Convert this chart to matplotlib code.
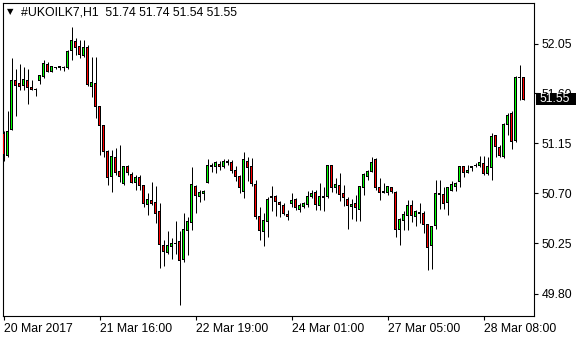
import matplotlib
matplotlib.use('Agg')
import matplotlib.pyplot as plt
import matplotlib.transforms as mtransforms
from matplotlib.patches import Rectangle
import numpy as np

# hourly bars, UKOIL K7
opens = [51.24, 51.04, 51.28, 51.72, 51.69, 51.67, 51.72, 51.65, 51.64, 51.72,
         51.75, 51.86, 51.80, 51.83, 51.84, 51.83, 51.83, 51.99, 52.07, 52.02,
         51.94, 52.01, 51.66, 51.69, 51.48, 51.31, 51.08, 50.85, 51.02, 50.90,
         50.79, 50.94, 50.87, 50.80, 50.84, 50.77, 50.60, 50.64, 50.62, 50.54,
         50.23, 50.17, 50.22, 50.25, 50.27, 50.11, 50.37, 50.44, 50.76, 50.67,
         50.70, 50.80, 50.95, 50.94, 50.96, 50.94, 50.99, 50.98, 50.91, 50.85,
         50.72, 50.99, 50.94, 50.78, 50.49, 50.36, 50.45, 50.67, 50.67, 50.62,
         50.59, 50.51, 50.61, 50.65, 50.56, 50.58, 50.60, 50.67, 50.71, 50.59,
         50.67, 50.67, 50.95, 50.75, 50.77, 50.70, 50.65, 50.58, 50.61, 50.56,
         50.75, 50.85, 50.90, 51.01, 50.75, 50.72, 50.71, 50.75, 50.71, 50.38,
         50.46, 50.50, 50.59, 50.49, 50.53, 50.52, 50.42, 50.23, 50.41, 50.70,
         50.69, 50.62, 50.73, 50.76, 50.81, 50.94, 50.89, 50.93, 50.95, 50.95,
         50.97, 50.88, 50.93, 51.22, 51.11, 51.03, 51.32, 51.42, 51.18, 51.74,
         51.74]
highs = [51.26, 51.44, 51.92, 51.82, 51.87, 51.84, 51.82, 51.72, 51.65, 51.77,
         51.90, 51.88, 51.85, 51.84, 51.85, 51.85, 51.99, 52.20, 52.10, 52.08,
         52.08, 52.04, 51.93, 51.93, 51.49, 51.32, 51.09, 51.09, 51.11, 51.14,
         50.94, 50.96, 50.89, 50.87, 50.87, 50.78, 50.70, 50.80, 50.77, 50.61,
         50.28, 50.36, 50.30, 50.45, 50.36, 50.52, 50.49, 50.94, 50.78, 50.73,
         50.73, 51.01, 50.97, 50.99, 50.99, 51.01, 51.01, 51.00, 50.95, 50.87,
         51.07, 51.03, 51.02, 50.82, 50.58, 50.52, 50.67, 50.77, 50.69, 50.63,
         50.61, 50.55, 50.70, 50.66, 50.61, 50.62, 50.72, 50.73, 50.73, 50.79,
         50.76, 50.96, 50.96, 50.84, 50.88, 50.78, 50.67, 50.65, 50.69, 50.77,
         50.88, 50.91, 51.03, 51.02, 50.84, 50.79, 50.77, 50.76, 50.72, 50.48,
         50.54, 50.64, 50.64, 50.55, 50.61, 50.54, 50.42, 50.40, 50.82, 50.82,
         50.76, 50.76, 50.81, 50.80, 50.95, 50.95, 50.96, 50.95, 50.97, 51.04,
         51.04, 51.03, 51.24, 51.23, 51.14, 51.33, 51.42, 51.44, 51.76, 51.86,
         51.74]
lows = [50.99, 51.03, 51.27, 51.40, 51.63, 51.63, 51.51, 51.63, 51.58, 51.69,
        51.74, 51.79, 51.79, 51.82, 51.81, 51.80, 51.82, 51.90, 51.95, 51.92,
        51.93, 51.67, 51.57, 51.38, 51.05, 51.03, 50.78, 50.71, 50.87, 50.80,
        50.78, 50.87, 50.79, 50.73, 50.73, 50.58, 50.51, 50.60, 50.43, 50.03,
        50.05, 50.16, 50.11, 50.16, 49.70, 50.08, 50.15, 50.37, 50.52, 50.62,
        50.64, 50.79, 50.89, 50.88, 50.91, 50.93, 50.96, 50.88, 50.81, 50.70,
        50.66, 50.81, 50.77, 50.47, 50.28, 50.23, 50.31, 50.54, 50.50, 50.49,
        50.51, 50.46, 50.58, 50.55, 50.53, 50.57, 50.58, 50.66, 50.55, 50.55,
        50.54, 50.66, 50.71, 50.70, 50.63, 50.59, 50.38, 50.47, 50.45, 50.45,
        50.69, 50.82, 50.89, 50.73, 50.64, 50.70, 50.69, 50.70, 50.31, 50.24,
        50.37, 50.37, 50.44, 50.41, 50.43, 50.34, 50.01, 50.02, 50.38, 50.56,
        50.56, 50.51, 50.72, 50.72, 50.76, 50.85, 50.88, 50.90, 50.94, 50.94,
        50.87, 50.87, 50.82, 51.03, 51.03, 51.02, 51.23, 51.10, 51.16, 51.54,
        51.54]
closes = [51.05, 51.26, 51.72, 51.67, 51.66, 51.73, 51.65, 51.64, 51.64, 51.76,
          51.87, 51.80, 51.84, 51.83, 51.83, 51.83, 51.98, 52.08, 52.01, 51.95,
          52.01, 51.68, 51.70, 51.48, 51.31, 51.08, 50.84, 51.03, 50.89, 50.85,
          50.94, 50.89, 50.80, 50.84, 50.77, 50.61, 50.65, 50.61, 50.52, 50.24,
          50.18, 50.23, 50.25, 50.25, 50.10, 50.38, 50.45, 50.78, 50.68, 50.71,
          50.72, 50.95, 50.94, 50.98, 50.94, 50.99, 50.98, 50.91, 50.85, 50.75,
          51.01, 50.93, 50.79, 50.49, 50.37, 50.46, 50.65, 50.66, 50.63, 50.60,
          50.52, 50.49, 50.64, 50.57, 50.59, 50.61, 50.67, 50.70, 50.60, 50.67,
          50.66, 50.95, 50.75, 50.78, 50.69, 50.66, 50.59, 50.60, 50.57, 50.76,
          50.87, 50.90, 50.98, 50.75, 50.71, 50.71, 50.76, 50.72, 50.38, 50.47,
          50.51, 50.59, 50.50, 50.54, 50.52, 50.42, 50.21, 50.40, 50.70, 50.69,
          50.61, 50.75, 50.78, 50.79, 50.94, 50.89, 50.91, 50.94, 50.95, 50.98,
          50.88, 50.94, 51.21, 51.12, 51.04, 51.32, 51.40, 51.17, 51.74, 51.74,
          51.55]

tick_pos = [0, 24, 48, 72, 96, 120]
tick_labels = ['20 Mar 2017', '21 Mar 16:00', '22 Mar 19:00',
               '24 Mar 01:00', '27 Mar 05:00', '28 Mar 08:00']
price_ticks = [49.80, 50.25, 50.70, 51.15, 51.60, 52.05]
symbol = '#UKOILK7,H1'

o = np.array(opens)
h = np.array(highs)
l = np.array(lows)
c = np.array(closes)
x = np.arange(len(o))

plt.rcParams['font.family'] = ['Liberation Sans', 'DejaVu Sans']
plt.rcParams['font.size'] = 8.8

fig = plt.figure(figsize=(5.8, 3.4), dpi=100)
ax = fig.add_axes([3 / 580, 24 / 340, 531 / 580, 313 / 340])

ylo, yhi = 49.5975, 52.4145
px = (yhi - ylo) / 313.0  # one pixel in price units

up = c >= o
cols = ['#00ff00' if u else '#ff0000' for u in up]
lo_b = np.minimum(o, c)
hi_b = np.maximum(o, c)

# wicks
ax.vlines(x, l, h, color='black', linewidth=0.72, zorder=2)
# black body frame
ax.bar(x, hi_b - lo_b + px, bottom=lo_b - px / 2, width=0.8, color='black',
       linewidth=0, zorder=3)
# coloured inside
inner = np.maximum(hi_b - lo_b - px, 0)
ax.bar(x, inner, bottom=lo_b + px / 2, width=0.4, color=cols,
       linewidth=0, zorder=4)

# candle centres on pixel centres: 4 px per bar
ax.set_xlim(-0.125, 132.625)
ax.set_ylim(ylo, yhi)

ax.yaxis.tick_right()
ax.set_yticks(price_ticks)
ax.set_yticklabels(['%.2f' % p for p in price_ticks])
ax.set_xticks(tick_pos)
ax.set_xticklabels(tick_labels)
plt.setp(ax.get_xticklabels(), ha='left')
ax.tick_params(axis='y', length=3, width=0.8, pad=2.5, colors='black')
ax.tick_params(axis='x', length=3, width=0.8, pad=2.0, colors='black')
for s in ax.spines.values():
    s.set_linewidth(0.8)
    s.set_color('black')

# header
fig.text(7 / 580, 1 - 12 / 340, '\u25bc', family='DejaVu Sans', fontsize=6,
         va='center', ha='left')
fig.text(21 / 580, 1 - 12.5 / 340,
         '%s  %.2f %.2f %.2f %.2f' % (symbol, o[-1], h[-1], l[-1], c[-1]),
         va='center', ha='left')

# last price label
tr = mtransforms.blended_transform_factory(fig.transFigure, ax.transData)
fig.patches.append(Rectangle((536 / 580, c[-1] - 0.05), 40 / 580, 0.10,
                             transform=tr, facecolor='black', edgecolor='none',
                             zorder=5))
fig.text(540 / 580, c[-1], '%.2f' % c[-1], transform=tr, color='white',
         va='center', ha='left', zorder=6)

fig.savefig('out.png', dpi=100, facecolor='white')
